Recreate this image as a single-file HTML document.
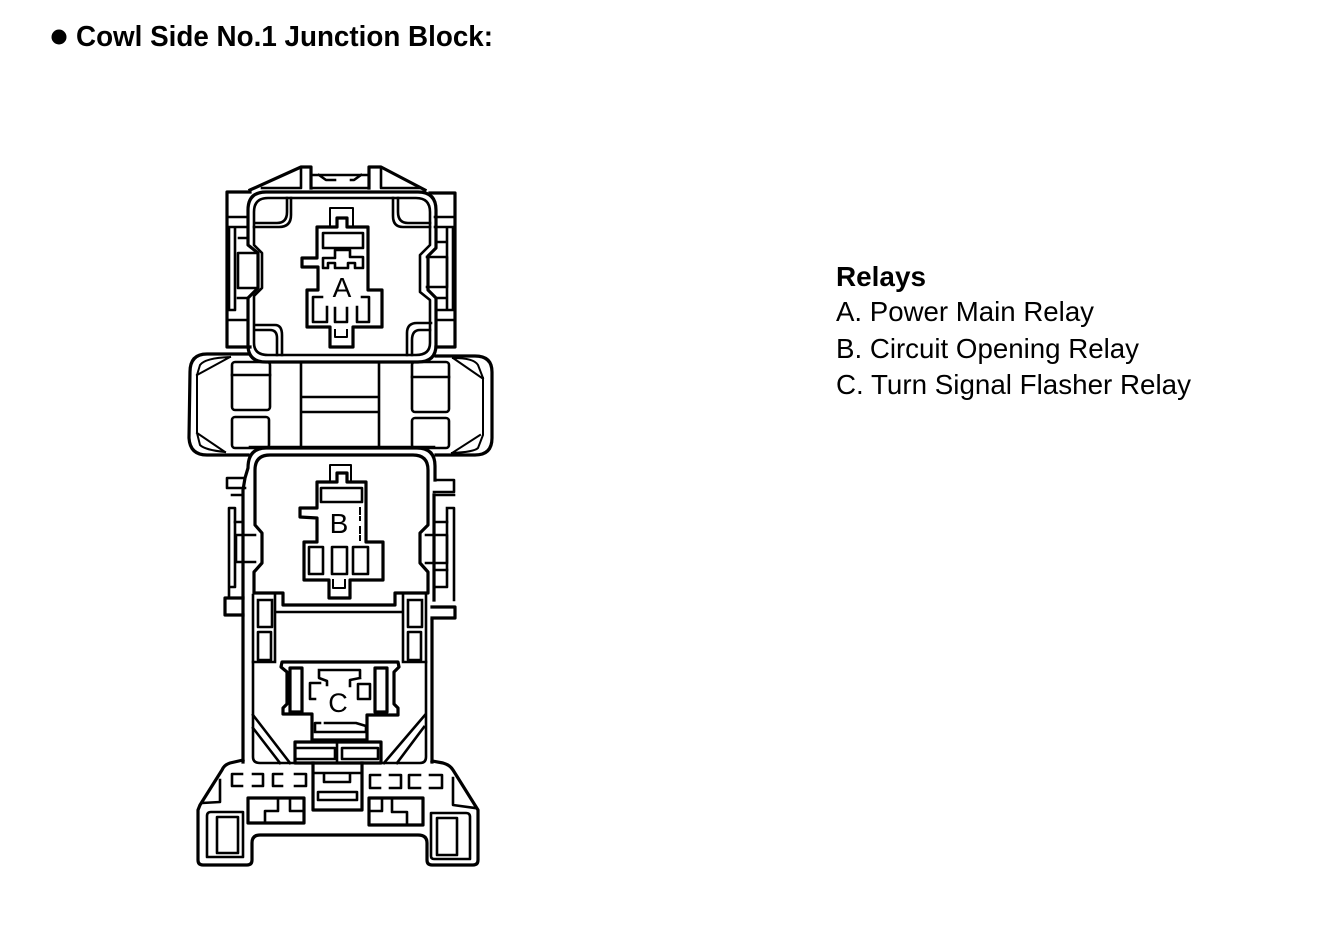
<!DOCTYPE html>
<html><head><meta charset="utf-8"><style>
html,body{margin:0;padding:0;background:#fff}
svg{display:block}
text{font-family:"Liberation Sans",sans-serif;fill:#000}
.l{fill:none;stroke:#000;stroke-width:2.6;stroke-linejoin:round;stroke-linecap:square}
.t{stroke-width:3.2}
.n{stroke-width:2}
</style></head><body>
<svg width="1328" height="936" viewBox="0 0 1328 936" xmlns="http://www.w3.org/2000/svg">
<rect width="1328" height="936" fill="#fff"/>
<circle cx="59" cy="37" r="7.5" fill="#000"/>
<text x="76" y="46" font-size="28.5" font-weight="700" textLength="417" lengthAdjust="spacingAndGlyphs">Cowl Side No.1 Junction Block:</text>
<text x="836" y="286" font-size="27.5" font-weight="700" textLength="90" lengthAdjust="spacingAndGlyphs">Relays</text>
<text x="836" y="321" font-size="27.5" textLength="258" lengthAdjust="spacingAndGlyphs">A. Power Main Relay</text>
<text x="836" y="358" font-size="27.5" textLength="303" lengthAdjust="spacingAndGlyphs">B. Circuit Opening Relay</text>
<text x="836" y="394" font-size="27.5" textLength="355" lengthAdjust="spacingAndGlyphs">C. Turn Signal Flasher Relay</text>

<!-- TOP BLOCK A -->
<g class="l">
<path class="l t" d="M250 190 L301 167 H311 V188 M369 188 V167 H381 L425 190"/>
<path class="l" d="M301 168 V188 H262 M369 175 H311 M311 188 H369 M319 175 L326 180 H335 M361 175 L354 180 H351 M381 168 V188 H419"/>
<path class="l t" d="M250 192 H227 V347 H250 M430 193 H455 V347 H436"/>
<path class="l" d="M227 217 H247 M229 227 H247 M229 227 V310 H235 V227 M239 238 H248 M238 298 H248 M227 320 H248 M435 217 H455 M435 227 H455 M447 227 V310 H453 V227 M436 242 H447 M436 298 H447 M436 310 H447 M436 320 H455"/>
<path class="l" d="M258 253 H238 V288 H258 M427 257 H447 V287 H427"/>
<path class="l t" d="M266 192 H418 Q436 192 436 210 V248 L428 256 V290 L436 298 V345 Q436 362 418 362 H266 Q248 362 248 345 V298 L258 288 V253 L248 245 V210 Q248 192 266 192Z"/>
<path class="l" d="M268 198 H416 Q430 198 430 212 V245 L420 255 V292 L430 300 V343 Q430 355 416 355 H268 Q254 355 254 343 V296 L262 288 V253 L254 245 V212 Q254 198 268 198Z"/>
<path class="l" d="M287 198 V212 Q287 223 277 223 H256 M291 198 V215 Q291 227 279 227 H254 M398 198 V212 Q398 223 408 223 H430 M393 198 V216 Q393 227 403 227 H430 M256 325 H275 Q282 325 282 335 V355 M256 330 H270 Q277 330 277 338 V355 M407 355 V333 Q407 323 417 323 H431 M412 355 V340 Q412 330 420 330 H430"/>
<path class="l t" d="M317 227 H337 V218 H347 V227 H368 V290 H382 V327 H353 V347 H330 V327 H307 V290 H318 V267 H302 V258 H317Z"/>
<path class="l n" d="M330 227 V208 H353 V227 M335 330 V337 H347 V330"/>
<rect class="l" x="323" y="233" width="40" height="15"/>
<path class="l" d="M323 258 H335 V250 H350 V257 H363 V268 H355 V263 H348 V268 H335 V263 H328 V268 H323Z"/>
<path class="l" d="M322 297 H313 V322 H327 V307 M335 308 V322 H347 V308 M357 307 V322 H369 V297 H362"/>
</g>
<text x="342" y="297" font-size="28" text-anchor="middle">A</text>

<!-- MIDDLE -->
<g class="l">
<path class="l t" d="M248 354 H207 Q190 354 190 372 L189 438 Q190 455 207 455 H248 M436 356 H475 Q492 356 492 372 V438 Q492 455 475 455 H436"/>
<path class="l n" d="M197 375 L200 365 Q205 358 230 357 M197 375 V433 L200 445 Q205 450 225 452 M197 375 L230 357 M197 433 L225 452 M483 378 L478 365 Q474 358 453 358 M483 378 V435 L478 448 Q474 452 452 453 M482 378 L453 358 M480 435 L452 453"/>
<rect class="l" x="232" y="362" width="38" height="48" rx="3"/>
<rect class="l" x="232" y="417" width="37" height="31" rx="3"/>
<rect class="l" x="412" y="362" width="37" height="50" rx="3"/>
<rect class="l" x="412" y="418" width="37" height="30" rx="3"/>
<path class="l" d="M232 375 H270 M412 377 H449 M301 364 V447 M379 364 V447 M301 397 H379 M301 412 H379 M250 447 H434"/>
</g>

<!-- B BLOCK -->
<g class="l">
<path class="l t" d="M243 762 V490 L245 478 L248 468 Q248 448 266 448 H417 Q435 448 435 466 V480 M432 762 V620 M434 495 V600"/>
<path class="l" d="M245 478 H227 V488 H245 M435 480 H454 V492 H434 M243 495 H232 M229 508 H235 V587 H229Z M229 587 V598 H243 M435 495 H454 M447 508 V587 H435 M447 508 H454 V600"/>
<path class="l" d="M235 522 H243 M436 522 H447 M436 570 H447"/>
<path class="l" d="M255 535 H236 V562 H255 M426 535 H447 V563 H426"/>
<path class="l t" d="M270 455 H413 Q428 455 428 470 V525 L420 533 V563 L428 572 V593 H395 V605 H283 V593 H254 V572 L262 563 V533 L255 525 V470 Q255 455 270 455Z"/>
<path class="l t" d="M243 598 H225 V615 H243 M432 607 H455 V618 H432"/>
<path class="l t" d="M317 482 H337 V473 H347 V482 H366 V542 H383 V580 H350 V598 H329 V580 H304 V542 H317 V518 L300 517 V508 H317Z"/>
<path class="l n" d="M330 482 V465 H351 V482 M333 580 V588 H345 V580"/>
<rect class="l" x="321" y="488" width="41" height="14"/>
<rect class="l" x="309" y="547" width="14" height="27"/>
<rect class="l" x="332" y="547" width="15" height="27"/>
<rect class="l" x="353" y="547" width="15" height="27"/>
<path class="l n" d="M360 508 V520 M360 527 V540" stroke-dasharray="6 3"/>
</g>
<text x="339" y="533" font-size="28" text-anchor="middle">B</text>

<!-- LOWER / C -->
<g class="l">
<path class="l" d="M253 595 V757 Q253 763 260 763 H296 M426 595 V757 Q426 763 420 763 H380"/>
<path class="l" d="M275 595 V660 M403 595 V660 M275 612 H403"/>
<path class="l" d="M258 600 V627 H272 V600 M258 600 H272 M258 632 H271 V660 H258Z M408 600 V627 H422 V600 M408 600 H422 M408 632 H421 V660 H408Z"/>
<path class="l" d="M253 662 H275 M403 662 H426"/>
<path class="l" d="M253 715 L290 763 M253 728 L280 763 M425 715 L384 763 M424 727 L397 763"/>
<path class="l t" d="M282 662 H398 L399 667 L394 672 V704 L398 708 V715 H367 V740 H312 V714 H283 V708 L287 704 V672 L281 667Z"/>
<rect class="l t" x="290" y="668" width="12" height="44"/>
<rect class="l t" x="375" y="668" width="12" height="44"/>
<path class="l" d="M319 670 H360 V678 M319 670 V678 L327 681 V685 M350 686 V680 L360 678"/>
<path class="l" d="M320 683 H310 V699 H315"/>
<rect class="l" x="358" y="684" width="12" height="15"/>
<path class="l" d="M315 732 H366 M315 732 V723 H320 M325 723 H356 L366 726 V732" />
<rect class="l t" x="295" y="742" width="86" height="21"/>
<path class="l" d="M337 742 V763"/>
<rect class="l" x="295" y="748" width="40" height="11"/>
<rect class="l" x="342" y="748" width="36" height="11"/>

<path class="l t" d="M243 760 L230 763 Q224 765 222 770 L200 805 L198 810 V860 Q198 865 203 865 H247 Q252 865 252 860 V843 Q252 835 260 835 H418 Q427 835 427 843 V860 Q427 865 432 865 H473 Q478 865 478 860 V810 L453 770 Q450 765 443 763 L432 761"/>
<path class="l" d="M220 780 V802 L202 803 M453 778 V805 L475 808"/>
<path class="l" d="M207 857 V816 Q207 812 211 812 H243 V857 H207 Z"/>
<rect class="l" x="217" y="817" width="21" height="36"/>
<path class="l" d="M431 813 H466 Q470 813 470 817 V859 H434 Q431 859 431 856Z"/>
<rect class="l" x="437" y="818" width="20" height="37"/>
<path class="l" d="M242 774 H232 V786 H242 M253 774 H263 V786 H253 M282 774 H273 V786 H282 M295 774 H306 V786 H295 M380 775 H370 V788 H380 M390 775 H401 V788 H390 M420 775 H409 V788 H420 M430 775 H442 V788 H430"/>
<path class="l t" d="M313 763 V810 H362 V763"/>
<path class="l" d="M313 773 H360 M324 773 V782 H350 V773"/>
<rect class="l" x="318" y="792" width="39" height="8"/>
<path class="l t" d="M248 798 H304 V823 H248Z M369 798 H423 V825 H369Z"/>
<path class="l" d="M278 798 V811 H265 V823 M290 798 V811 H304 M369 811 H382 V798 M392 798 V812 H407 V825"/>
</g>
<text x="338" y="712" font-size="27" text-anchor="middle">C</text>
</svg>
</body></html>
